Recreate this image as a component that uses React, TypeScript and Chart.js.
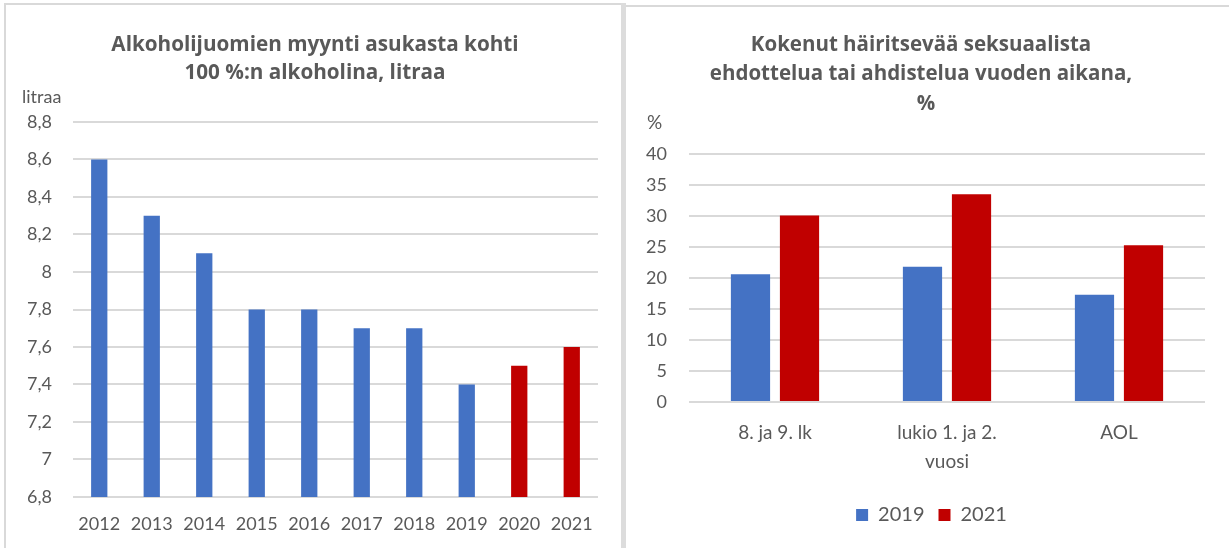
import React, { useEffect, useRef } from "react";
import { Chart, registerables } from "chart.js";

Chart.register(...registerables);

// ---------- Left chart data ----------
const years = ["2012", "2013", "2014", "2015", "2016", "2017", "2018", "2019", "2020", "2021"];
const litres = [8.6, 8.3, 8.1, 7.8, 7.8, 7.7, 7.7, 7.4, 7.5, 7.6];
const highlightedYears = ["2020", "2021"];
const leftTitle = ["Alkoholijuomien myynti asukasta kohti", "100 %:n alkoholina, litraa"];
const leftUnit = "litraa";
const leftMin = 6.8;
const leftMax = 8.8;
const leftStep = 0.2;

// ---------- Right chart data ----------
const groups = [["8. ja 9. lk"], ["lukio 1. ja 2.", "vuosi"], ["AOL"]];
const seriesNames = ["2019", "2021"];
const values2019 = [20.6, 21.8, 17.3];
const values2021 = [30.1, 33.5, 25.3];
const rightTitle = ["Kokenut häiritsevää seksuaalista", "ehdottelua tai ahdistelua vuoden aikana,", "%"];
const rightUnit = "%";
const rightMin = 0;
const rightMax = 40;
const rightStep = 5;

const FONT = "Lato, 'Open Sans', sans-serif";
const TITLE_FONT = "'Open Sans', Lato, sans-serif";
const TEXT = "#595959";
const GRID = "#d9d9d9";
const BLUE = "#4472C4";
const RED = "#C00000";

type TextItem = { text: string; x: number; y: number; bold?: boolean; size: number; align: CanvasTextAlign; family?: string };

const textPlugin = (id: string, items: TextItem[]) => ({
  id,
  afterDraw(chart: any) {
    const ctx = chart.ctx as CanvasRenderingContext2D;
    ctx.save();
    ctx.fillStyle = TEXT;
    ctx.textBaseline = "middle";
    items.forEach((it) => {
      ctx.font = `${it.bold ? "bold " : ""}${it.size}px ${it.family || FONT}`;
      ctx.textAlign = it.align;
      ctx.fillText(it.text, it.x, it.y);
    });
    ctx.restore();
  },
});

const legendShift = (dx: number) => ({
  id: "legendShift",
  afterLayout(chart: any) {
    if (chart.legend) {
      chart.legend.left += dx;
      chart.legend.right += dx;
    }
  },
});

function LeftChart() {
  const ref = useRef<HTMLCanvasElement>(null);
  useEffect(() => {
    const chart = new Chart(ref.current!, {
      type: "bar",
      data: {
        labels: years,
        datasets: [
          {
            data: litres,
            backgroundColor: years.map((y) => (highlightedYears.includes(y) ? RED : BLUE)),
            barPercentage: 0.31,
            categoryPercentage: 1,
          },
        ],
      },
      options: {
        responsive: false,
        animation: false,
        devicePixelRatio: 1,
        layout: { padding: { left: 0, top: 117, right: 23, bottom: 0 } },
        plugins: { legend: { display: false }, tooltip: { enabled: false }, title: { display: false } },
        scales: {
          x: {
            grid: { display: false, drawTicks: false },
            border: { display: false },
            ticks: { color: TEXT, font: { family: FONT, size: 18 }, padding: 16, autoSkip: false, maxRotation: 0 },
            afterFit: (s: any) => {
              s.height = 51;
            },
          },
          y: {
            min: leftMin,
            max: leftMax,
            grid: { color: GRID, lineWidth: 2, drawTicks: false },
            border: { display: false },
            ticks: {
              stepSize: leftStep,
              color: TEXT,
              font: { family: FONT, size: 18 },
              padding: 21,
              callback: (v: any) => String(Number(Number(v).toFixed(1))).replace(".", ","),
            },
            afterFit: (s: any) => {
              s.width = 67;
            },
          },
        },
      },
      plugins: [
        textPlugin("leftTexts", [
          { text: leftTitle[0], x: 309, y: 40, bold: true, size: 20.7, align: "center", family: TITLE_FONT },
          { text: leftTitle[1], x: 309, y: 68, bold: true, size: 20.7, align: "center", family: TITLE_FONT },
          { text: leftUnit, x: 16, y: 92, size: 18, align: "left" },
        ]),
      ],
    } as any);
    return () => chart.destroy();
  }, []);
  return (
    <canvas
      ref={ref}
      width={615}
      height={543}
      style={{ position: "absolute", left: 6, top: 5, width: 615, height: 543, display: "block" }}
    />
  );
}

function RightChart() {
  const ref = useRef<HTMLCanvasElement>(null);
  useEffect(() => {
    const chart = new Chart(ref.current!, {
      type: "bar",
      data: {
        labels: groups,
        datasets: [
          { label: seriesNames[0], data: values2019, backgroundColor: BLUE, barPercentage: 0.8, categoryPercentage: 0.57 },
          { label: seriesNames[1], data: values2021, backgroundColor: RED, barPercentage: 0.8, categoryPercentage: 0.57 },
        ],
      },
      options: {
        responsive: false,
        animation: false,
        devicePixelRatio: 1,
        layout: { padding: { left: 0, top: 147, right: 24, bottom: 13 } },
        plugins: {
          tooltip: { enabled: false },
          title: { display: false },
          legend: {
            display: true,
            position: "bottom",
            labels: {
              boxWidth: 12,
              boxHeight: 12,
              padding: 14,
              color: TEXT,
              font: { family: FONT, size: 20 },
            },
          },
        },
        scales: {
          x: {
            grid: { display: false, drawTicks: false },
            border: { display: false },
            ticks: {
              color: TEXT,
              font: { family: FONT, size: 19, lineHeight: 1.53 },
              padding: 16,
              autoSkip: false,
              maxRotation: 0,
            },
            afterFit: (s: any) => {
              s.height = 89;
            },
          },
          y: {
            min: rightMin,
            max: rightMax,
            grid: { color: GRID, lineWidth: 2, drawTicks: false },
            border: { display: false },
            ticks: { stepSize: rightStep, color: TEXT, font: { family: FONT, size: 18 }, padding: 22 },
            afterFit: (s: any) => {
              s.width = 63;
            },
          },
        },
      },
      plugins: [
        legendShift(16),
        textPlugin("rightTexts", [
          { text: rightTitle[0], x: 295, y: 38, bold: true, size: 20.5, align: "center", family: TITLE_FONT },
          { text: rightTitle[1], x: 295, y: 67, bold: true, size: 20.5, align: "center", family: TITLE_FONT },
          { text: rightTitle[2], x: 300, y: 97, bold: true, size: 20.5, align: "center", family: TITLE_FONT },
          { text: rightUnit, x: 21, y: 116, size: 19, align: "left" },
        ]),
      ],
    } as any);
    return () => chart.destroy();
  }, []);
  return (
    <canvas
      ref={ref}
      width={603}
      height={541}
      style={{ position: "absolute", left: 626, top: 7, width: 603, height: 541, display: "block" }}
    />
  );
}

export default function App() {
  return (
    <div
      style={{
        position: "absolute",
        left: 0,
        top: 0,
        width: 1229,
        height: 548,
        background: "#ffffff",
        overflow: "hidden",
      }}
    >
      {/* panel frames */}
      <div style={{ position: "absolute", left: 4, top: 3, width: 617, height: 2, background: GRID }} />
      <div style={{ position: "absolute", left: 4, top: 3, width: 2, height: 545, background: GRID }} />
      <div style={{ position: "absolute", left: 621, top: 3, width: 5, height: 545, background: "#dcdcdc" }} />
      <div style={{ position: "absolute", left: 626, top: 5, width: 603, height: 2, background: GRID }} />
      <LeftChart />
      <RightChart />
    </div>
  );
}
